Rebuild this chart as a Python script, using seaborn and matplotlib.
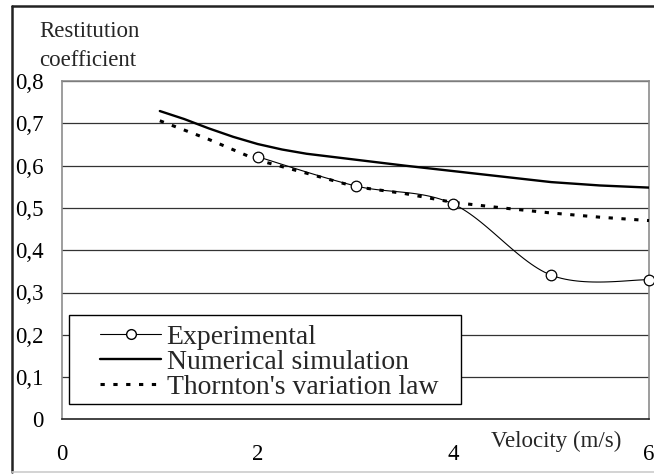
import numpy as np
import pandas as pd
import matplotlib
matplotlib.use("Agg")
import matplotlib.pyplot as plt
import seaborn as sns
from matplotlib.lines import Line2D
from matplotlib.patches import Rectangle

sns.set_theme(style="white")
plt.rcParams["font.family"] = ["Liberation Serif", "DejaVu Serif"]

# Experimental measurements
exp_v = [2, 3, 4, 5, 6]
exp_e = [0.621, 0.552, 0.509, 0.341, 0.330]

# Numerical simulation
sim_v = [1, 1.25, 1.5, 1.75, 2, 2.25, 2.5, 3, 3.5, 4, 4.5, 5, 5.5, 6]
sim_e = [0.729, 0.710, 0.688, 0.668, 0.651, 0.638, 0.628, 0.614, 0.600, 0.587,
         0.574, 0.561, 0.553, 0.548]

# Thornton's variation law
th_v = [1, 1.5, 2, 2.5, 3, 3.5, 4, 4.5, 5, 5.5, 6]
th_e = [0.706, 0.662, 0.613, 0.582, 0.550, 0.534, 0.513, 0.500, 0.488, 0.478, 0.470]

y_ticks = [0, 0.1, 0.2, 0.3, 0.4, 0.5, 0.6, 0.7, 0.8]
y_labels = ["0", "0,1", "0,2", "0,3", "0,4", "0,5", "0,6", "0,7", "0,8"]
x_ticks = [0, 2, 4, 6]

DOTS = (0, (1.4, 2.8))


def smooth(xs, ys, n=30):
    # Catmull-Rom curve like Excel's "smoothed line"
    p = np.column_stack([xs, ys]).astype(float)
    p = np.vstack([p[0], p, p[-1]])
    out = []
    for i in range(1, len(p) - 2):
        p0, p1, p2, p3 = p[i - 1], p[i], p[i + 1], p[i + 2]
        t = np.linspace(0, 1, n)[:, None]
        seg = 0.5 * (2 * p1 + (-p0 + p2) * t
                     + (2 * p0 - 5 * p1 + 4 * p2 - p3) * t ** 2
                     + (-p0 + 3 * p1 - 3 * p2 + p3) * t ** 3)
        out.append(seg)
    out = np.vstack(out)
    return out[:, 0], out[:, 1]


W, H = 654, 475
fig = plt.figure(figsize=(W / 100, H / 100), dpi=100)
ax = fig.add_axes([62 / W, (H - 419.4) / H, (649 - 62) / W, (419.4 - 81) / H])

# outer chart border
fig.add_artist(Line2D([12 / W, 1.0], [(H - 6) / H, (H - 6) / H], color="#222222", lw=1.8))
fig.add_artist(Line2D([12 / W, 12 / W], [(H - 472) / H, (H - 6) / H], color="#222222", lw=1.8))
fig.add_artist(Line2D([12 / W, 1.0], [(H - 472) / H, (H - 472) / H], color="#cccccc", lw=1.2))

for y in y_ticks[1:]:
    ax.axhline(y, color="#333333", lw=0.9, zorder=0)

sim = pd.DataFrame({"v": sim_v, "e": sim_e})
th = pd.DataFrame({"v": th_v, "e": th_e})
sx, sy = smooth(exp_v, exp_e)

ax.plot(sx, sy, color="black", lw=0.8, clip_on=False, zorder=3)
sns.scatterplot(x=exp_v, y=exp_e, ax=ax, marker="o", s=58, facecolor="white",
                edgecolor="black", linewidth=0.9, zorder=4, clip_on=False)
sns.lineplot(data=sim, x="v", y="e", ax=ax, color="black", lw=1.7, zorder=3)
sns.lineplot(data=th, x="v", y="e", ax=ax, color="black", lw=2.2, zorder=3,
             linestyle=DOTS, clip_on=False)

ax.set_xlim(0, 6)
ax.set_ylim(0, 0.8)
ax.set_xticks(x_ticks)
ax.set_yticks(y_ticks)
ax.set_yticklabels(y_labels)
ax.set_xlabel("")
ax.set_ylabel("")
ax.tick_params(axis="both", direction="out", length=6, width=1, colors="black", labelsize=16.5)
ax.tick_params(axis="x", pad=12)
ax.tick_params(axis="y", pad=7)

for side in ["top", "right", "left"]:
    ax.spines[side].set_color("#8c8c8c")
    ax.spines[side].set_linewidth(1.2)
ax.spines["bottom"].set_color("#222222")
ax.spines["bottom"].set_linewidth(1.2)

fig.text(39 / W, (H - 46) / H, "Restitution\ncoefficient", fontsize=16.5,
         ha="left", va="center", linespacing=1.45)
fig.text(556 / W, (H - 441) / H, "Velocity (m/s)", fontsize=16.5, ha="center", va="center")

# legend box drawn separately, entries placed inside it
ax.add_patch(Rectangle((69 / W, (H - 404) / H), (461 - 69) / W, (404 - 315) / H,
                       transform=fig.transFigure, facecolor="white",
                       edgecolor="black", lw=1.0, zorder=5, clip_on=False))
handles = [
    Line2D([], [], color="black", lw=0.8, marker="o", markersize=7,
           markerfacecolor="white", markeredgecolor="black"),
    Line2D([], [], color="black", lw=1.7),
    Line2D([], [], color="black", lw=2.2, linestyle=DOTS),
]
labels = ["Experimental", "Numerical simulation", "Thornton's variation law"]
leg = ax.legend(handles, labels, loc="center left",
                bbox_to_anchor=(100 / W, (H - 362) / H), bbox_transform=fig.transFigure,
                borderaxespad=0, borderpad=0, fontsize=20, frameon=False,
                handlelength=2.2, handletextpad=0.2, labelspacing=-0.02)
leg.set_zorder(6)

fig.savefig("out.png", dpi=100)
